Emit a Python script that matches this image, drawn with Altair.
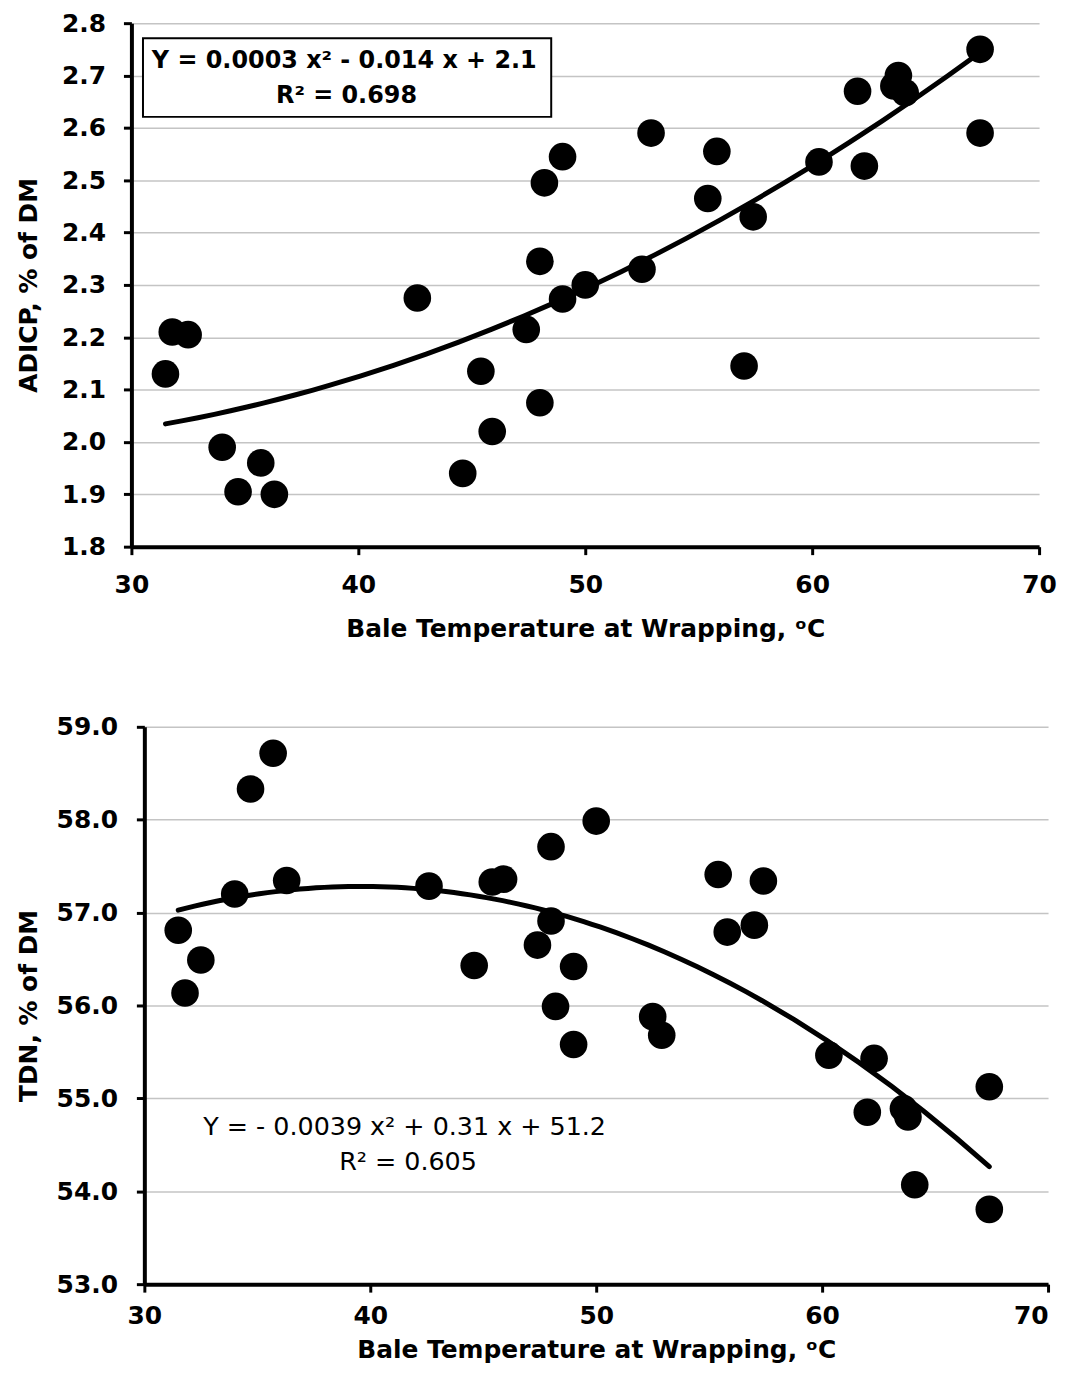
import altair as alt
import pandas as pd

# ---- data ----
temp_top = [31.5, 31.8, 32.5, 34.0, 34.7, 35.7, 36.3, 42.6, 44.6, 45.4, 45.9, 47.4,
            48.0, 48.0, 48.2, 49.0, 49.0, 50.0, 52.5, 52.9, 55.4, 55.8, 57.0, 57.4,
            60.3, 62.0, 62.3, 63.6, 63.8, 64.1, 67.4, 67.4]
adicp = [2.13, 2.21, 2.205, 1.99, 1.905, 1.96, 1.90, 2.275, 1.94, 2.135, 2.02, 2.215,
         2.075, 2.345, 2.495, 2.545, 2.273, 2.30, 2.33, 2.59, 2.465, 2.555, 2.145, 2.43,
         2.535, 2.67, 2.527, 2.68, 2.70, 2.667, 2.75, 2.59]

temp_bot = [31.5, 31.8, 32.5, 34.0, 34.7, 35.7, 36.3, 42.6, 44.6, 45.4, 45.9, 47.4,
            48.0, 48.0, 48.2, 49.0, 49.0, 50.0, 52.5, 52.9, 55.4, 55.8, 57.0, 57.4,
            60.3, 62.0, 62.3, 63.6, 63.8, 64.1, 67.4, 67.4]
tdn = [56.81, 56.135, 56.49, 57.2, 58.33, 58.715, 57.345, 57.285, 56.43, 57.33, 57.36, 56.65,
       57.71, 56.91, 55.99, 56.42, 55.58, 57.985, 55.88, 55.68, 57.41, 56.79, 56.865, 57.34,
       55.465, 54.85, 55.43, 54.89, 54.80, 54.07, 55.125, 53.805]

x_ticks = [30, 40, 50, 60, 70]
y_ticks_top = [1.8, 1.9, 2.0, 2.1, 2.2, 2.3, 2.4, 2.5, 2.6, 2.7, 2.8]
y_ticks_bot = [53.0, 54.0, 55.0, 56.0, 57.0, 58.0, 59.0]

eq_top = ["Y = 0.0003 x² - 0.014 x + 2.1", "R² = 0.698"]
eq_bot = ["Y = - 0.0039 x² + 0.31 x + 51.2", "R² = 0.605"]

x_title = "Bale Temperature at Wrapping, ᵒC"
y_title_top = "ADICP, %  of DM"
y_title_bot = "TDN, % of DM"

# annotation placement (data coordinates)
top_box = pd.DataFrame({"x": [30.51], "x2": [48.5], "y": [2.7714], "y2": [2.621]})
top_txt = pd.DataFrame({"x": [39.38, 39.48], "y": [2.727, 2.6605], "t": eq_top})
bot_txt = pd.DataFrame({"x": [41.52, 41.67], "y": [54.69, 54.32], "t": eq_bot})

FONT = "DejaVu Sans"

df_top = pd.DataFrame({"temp": temp_top, "val": adicp})
df_bot = pd.DataFrame({"temp": temp_bot, "val": tdn})


def panel(df, ydom, yticks, ytitle, w, h, lab_pad_y, title_pad_y, lab_pad_x, title_pad_x,
          ann_layers, ext, last_label_right=False):
    xs = alt.Scale(domain=[30, 70], nice=False, zero=False)
    ys = alt.Scale(domain=ydom, nice=False, zero=False)
    x_axis_kw = dict(values=x_ticks, title=x_title, grid=False, format="d",
                     labelPadding=lab_pad_x, titlePadding=title_pad_x, labelFlush=False)
    if last_label_right:
        x_axis_kw["labelAlign"] = {"condition": {"test": "datum.value >= 70", "value": "right"},
                                   "value": "center"}
    x_enc = alt.X("temp:Q", scale=xs, axis=alt.Axis(**x_axis_kw))
    y_enc = alt.Y("val:Q", scale=ys,
                  axis=alt.Axis(values=yticks, title=ytitle, grid=True, format=".1f",
                                labelPadding=lab_pad_y, titlePadding=title_pad_y,
                                labelFlush=False))
    pts = alt.Chart(df).mark_circle(color="black", opacity=1, size=770).encode(x=x_enc, y=y_enc)
    fit = alt.Chart(df).transform_regression(
        "temp", "val", method="poly", order=2, extent=ext
    ).mark_line(color="black", strokeWidth=5, strokeCap="round").encode(
        x=alt.X("temp:Q", scale=xs), y=alt.Y("val:Q", scale=ys))
    layers = [pts, fit]
    for a in ann_layers:
        layers.append(a(xs, ys))
    return alt.layer(*layers).properties(width=w, height=h)


def top_box_layer(xs, ys):
    return alt.Chart(top_box).mark_rect(fill="white", stroke="black", strokeWidth=2).encode(
        x=alt.X("x:Q", scale=xs), x2="x2:Q", y=alt.Y("y:Q", scale=ys), y2="y2:Q")


def top_text_layer(xs, ys):
    return alt.Chart(top_txt).mark_text(font=FONT, fontSize=24, fontWeight="bold", color="black",
                                        align="center", baseline="middle").encode(
        x=alt.X("x:Q", scale=xs), y=alt.Y("y:Q", scale=ys), text="t:N")


def bot_text_layer(xs, ys):
    return alt.Chart(bot_txt).mark_text(font=FONT, fontSize=25.5, fontWeight="normal", color="black",
                                        align="center", baseline="middle").encode(
        x=alt.X("x:Q", scale=xs), y=alt.Y("y:Q", scale=ys), text="t:N")


def spacer():
    # tiny invisible view so each panel is laid out flush by its left edge
    return alt.Chart(pd.DataFrame({"s": [0]})).mark_point(opacity=0, size=1).properties(width=1, height=1)


top = panel(df_top, [1.8, 2.8], y_ticks_top, y_title_top, 912, 526,
            18, 20, 18, 19, [top_box_layer, top_text_layer], [31.5, 67.4])
bot = panel(df_bot, [53.0, 59.0], y_ticks_bot, y_title_bot, 908, 560,
            19, 15, 12, 9, [bot_text_layer], [31.5, 67.4], last_label_right=True)

row_top = alt.hconcat(spacer(), top, spacing=0)
row_bot = alt.hconcat(spacer(), bot, spacing=0)

chart = alt.vconcat(row_top, row_bot, spacing=74).properties(
    padding={"left": 7, "top": 0, "right": 0, "bottom": 0}
).configure_view(stroke=None).configure_axis(
    domainColor="black", domainWidth=4, tickColor="black", tickWidth=3, tickSize=8,
    labelFont=FONT, labelFontSize=25, labelFontWeight="bold", labelColor="black",
    titleFont=FONT, titleFontSize=25, titleFontWeight="bold", titleColor="black",
    gridColor="#c4c4c4", gridWidth=1.5
)

chart.save("out.html", embed_options={"renderer": "svg", "actions": False})
